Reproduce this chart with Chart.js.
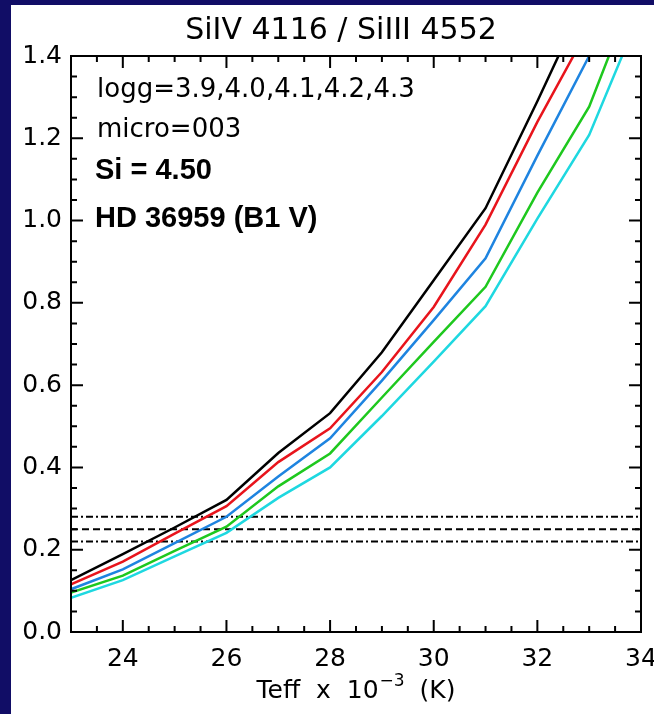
<!DOCTYPE html>
<html>
<head>
<meta charset="utf-8">
<script src="https://cdn.jsdelivr.net/npm/chart.js@4.4.0/dist/chart.umd.min.js"></script>
<style>
  html, body { margin: 0; padding: 0; }
  body { width: 654px; height: 714px; overflow: hidden; background: #110d66; position: relative; }
  #panel { position: absolute; left: 11px; top: 5px; width: 643px; height: 709px; background: #fff; overflow: hidden; }
  #ratioChart { position: absolute; left: 0; top: 0; }
</style>
</head>
<body>
<div id="panel"><canvas id="ratioChart" width="680" height="709"></canvas></div>
<script>
// Teff grid (x 10^3 K) and line ratio SiIV 4116 / SiIII 4552, one series per logg
const teff = [23, 24, 25, 26, 27, 28, 29, 30, 31, 32, 33, 34];
const ratioLogg39 = [0.126, 0.189, 0.254, 0.321, 0.435, 0.532, 0.680, 0.855, 1.030, 1.290, 1.560, 1.850];
const ratioLogg40 = [0.116, 0.171, 0.239, 0.306, 0.413, 0.495, 0.632, 0.790, 0.990, 1.240, 1.470, 1.720];
const ratioLogg41 = [0.104, 0.152, 0.216, 0.280, 0.378, 0.471, 0.611, 0.758, 0.908, 1.158, 1.400, 1.650];
const ratioLogg42 = [0.096, 0.137, 0.197, 0.256, 0.354, 0.434, 0.570, 0.705, 0.839, 1.068, 1.277, 1.600];
const ratioLogg43 = [0.083, 0.126, 0.184, 0.241, 0.326, 0.400, 0.525, 0.657, 0.792, 1.005, 1.208, 1.510];

// observed ratio for the star and its error band
const observedRatio = 0.25;
const observedLow = 0.22;
const observedHigh = 0.28;

const xTickLabels = [24, 26, 28, 30, 32, 34];
const yTickLabels = [0.0, 0.2, 0.4, 0.6, 0.8, 1.0, 1.2, 1.4];

const chartTitle = 'SiIV 4116 / SiIII 4552';
const notes = ['logg=3.9,4.0,4.1,4.2,4.3', 'micro=003', 'Si = 4.50', 'HD 36959 (B1 V)'];

const series = [
    { values: ratioLogg39, color: '#000000' },
    { values: ratioLogg40, color: '#e8141c' },
    { values: ratioLogg41, color: '#1e84e0' },
    { values: ratioLogg42, color: '#1ec81e' },
    { values: ratioLogg43, color: '#1ed8e0' }
];

const FONT = '"DejaVu Sans", sans-serif';

function hline(value, dash) {
    return {
        data: [{ x: teff[0], y: value }, { x: teff[teff.length - 1], y: value }],
        borderColor: '#000',
        borderWidth: 2,
        borderDash: dash,
        pointRadius: 0
    };
}

const datasets = series.map(s => ({
    data: teff.map((t, i) => ({ x: t, y: s.values[i] })),
    borderColor: s.color,
    borderWidth: 2.5,
    pointRadius: 0,
    tension: 0
}));
datasets.push(hline(observedHigh, [7, 3, 2, 3]));
datasets.push(hline(observedRatio, [7, 4]));
datasets.push(hline(observedLow, [7, 3, 2, 3]));

// IDL-style frame: box on all four sides with inward major/minor ticks, plus the text
const framePlugin = {
    id: 'frame',
    afterDatasetsDraw(chart) {
        const { ctx, chartArea: a, scales: { x, y } } = chart;
        ctx.save();
        ctx.strokeStyle = '#000';
        ctx.lineWidth = 2;
        ctx.strokeRect(a.left, a.top, a.right - a.left, a.bottom - a.top);

        ctx.beginPath();
        for (let v = x.min + 0.5; v < x.max; v += 0.5) {
            const px = x.getPixelForValue(v);
            const len = v % 2 === 0 ? 12 : 6;
            ctx.moveTo(px, a.bottom); ctx.lineTo(px, a.bottom - len);
            ctx.moveTo(px, a.top); ctx.lineTo(px, a.top + len);
        }
        for (let i = 1; i < 28; i++) {
            const py = y.getPixelForValue(i * 0.05);
            const len = i % 4 === 0 ? 12 : 6;
            ctx.moveTo(a.left, py); ctx.lineTo(a.left + len, py);
            ctx.moveTo(a.right, py); ctx.lineTo(a.right - len, py);
        }
        ctx.stroke();

        const cx = (a.left + a.right) / 2;
        ctx.fillStyle = '#000';
        ctx.textBaseline = 'alphabetic';

        ctx.textAlign = 'center';
        ctx.font = '30px ' + FONT;
        ctx.fillText(chartTitle, cx - 15, 34);

        // axis title with a raised exponent
        const main = 'Teff  x  10', sup = '\u22123', tail = '  (K)';
        ctx.font = '25px ' + FONT;
        const wMain = ctx.measureText(main).width, wTail = ctx.measureText(tail).width;
        ctx.font = '17px ' + FONT;
        const wSup = ctx.measureText(sup).width;
        let tx = cx - (wMain + wSup + wTail) / 2;
        ctx.textAlign = 'left';
        ctx.font = '25px ' + FONT;
        ctx.fillText(main, tx, 693);
        tx += wMain;
        ctx.font = '17px ' + FONT;
        ctx.fillText(sup, tx + 1, 681);
        tx += wSup;
        ctx.font = '25px ' + FONT;
        ctx.fillText(tail, tx, 693);

        ctx.font = '26px ' + FONT;
        ctx.fillText(notes[0], 86, 92);
        ctx.fillText(notes[1], 86, 132);
        ctx.font = 'bold 29px "Liberation Sans", sans-serif';
        ctx.fillText(notes[2], 84, 174);
        ctx.fillText(notes[3], 84, 222);
        ctx.restore();
    }
};

new Chart(document.getElementById('ratioChart'), {
    type: 'line',
    data: { datasets },
    plugins: [framePlugin],
    options: {
        responsive: false,
        animation: false,
        layout: { padding: { top: 51, right: 50, left: 0, bottom: 0 } },
        plugins: { legend: { display: false }, tooltip: { enabled: false } },
        scales: {
            x: {
                type: 'linear',
                min: 23,
                max: 34,
                grid: { display: false, drawTicks: false },
                border: { display: false },
                afterBuildTicks: s => { s.ticks = xTickLabels.map(v => ({ value: v })); },
                afterFit: s => { s.height = 82; },
                ticks: {
                    color: '#000',
                    font: { family: 'DejaVu Sans', size: 25 },
                    padding: 12,
                    maxRotation: 0,
                    autoSkip: false,
                    callback: v => String(v)
                }
            },
            y: {
                min: 0,
                max: 1.4,
                grid: { display: false, drawTicks: false },
                border: { display: false },
                afterBuildTicks: s => { s.ticks = yTickLabels.map(v => ({ value: v })); },
                afterFit: s => { s.width = 60; },
                ticks: {
                    color: '#000',
                    font: { family: 'DejaVu Sans', size: 25 },
                    padding: 9,
                    autoSkip: false,
                    callback: v => v.toFixed(1)
                }
            }
        }
    }
});
</script>
</body>
</html>
